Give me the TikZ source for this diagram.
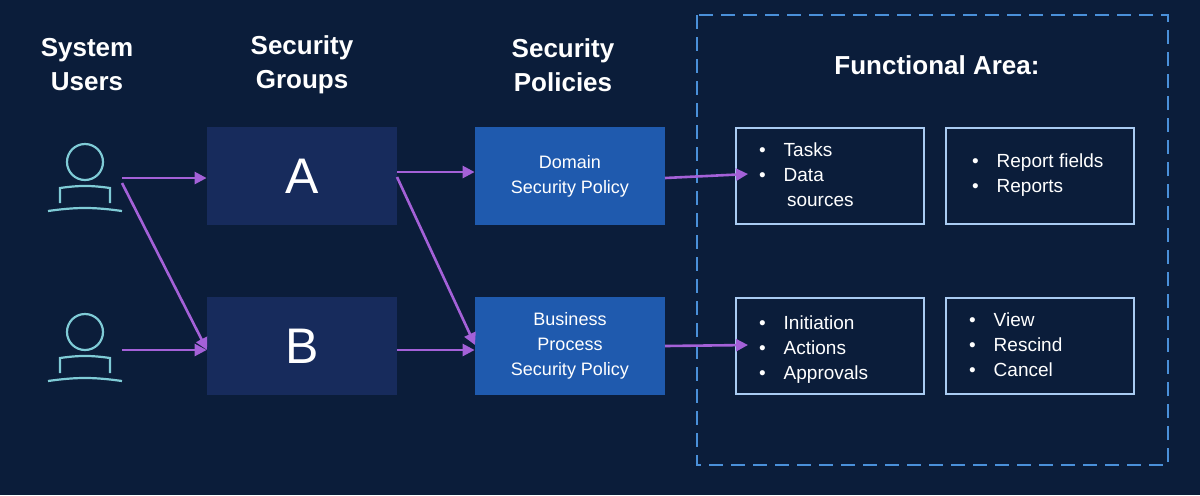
\documentclass[tikz,border=0pt]{standalone}
\usepackage{fontspec}
\setmainfont{Liberation Sans}
\usetikzlibrary{arrows.meta}
\definecolor{bg}{HTML}{0B1D3A}
\definecolor{grp}{HTML}{172B5C}
\definecolor{pol}{HTML}{1F5AAE}
\definecolor{fa}{HTML}{A9CBF2}
\definecolor{dashc}{HTML}{4A90D9}
\definecolor{arr}{HTML}{A461D8}
\definecolor{icon}{HTML}{7FCBD6}
\begin{document}
\begin{tikzpicture}[x=0.5pt,y=-0.5pt,
  hdr/.style={text=white,font=\fontsize{13}{17}\selectfont\bfseries,align=center},
  grpbox/.style={fill=grp,minimum width=95pt,minimum height=49pt,text=white,font=\fontsize{25}{28}\selectfont},
  polbox/.style={fill=pol,minimum width=95pt,minimum height=49pt,text=white,font=\fontsize{9}{12.5}\selectfont,align=center},
  fabox/.style={draw=fa,line width=1.2pt,minimum width=94pt,minimum height=48pt},
  fatxt/.style={text=white,font=\fontsize{9.5}{12.5}\selectfont,align=left,anchor=north west},
  con/.style={draw=arr,line width=1.3pt,-{Triangle[length=6pt,width=6pt]}},
  ic/.style={draw=icon,line width=1.1pt}]
\fill[bg] (0,0) rectangle (1200,495);
\draw[dashc,line width=1.2pt,dash pattern=on 7pt off 4pt] (697,15) rectangle (1168,465);
\node[hdr] at (87,65) {System\\Users};
\node[hdr] at (302,65) {Security\\Groups};
\node[hdr] at (563,65) {Security\\Policies};
\node[hdr] at (937,65) {Functional Area:};
\node[grpbox] (A) at (302,176) {A};
\node[grpbox] (B) at (302,346) {B};
\node[polbox] (P1) at (570,176) {Domain\\Security Policy};
\node[polbox] (P2) at (570,346) {Business\\Process\\Security Policy};
\node[fabox] (F1) at (830,176) {};
\node[fatxt] at (752,136) {•\hspace{9pt}Tasks\\•\hspace{9pt}Data\\\hspace{14pt}sources};
\node[fabox] (F2) at (1040,176) {};
\node[fatxt] at (965,147) {•\hspace{9pt}Report fields\\•\hspace{9pt}Reports};
\node[fabox] (F3) at (830,346) {};
\node[fatxt] at (752,309) {•\hspace{9pt}Initiation\\•\hspace{9pt}Actions\\•\hspace{9pt}Approvals};
\node[fabox] (F4) at (1040,346) {};
\node[fatxt] at (962,306) {•\hspace{9pt}View\\•\hspace{9pt}Rescind\\•\hspace{9pt}Cancel};
\foreach \dy in {0,170}{
  \begin{scope}[yshift=-\dy*0.5pt]
  \draw[ic] (85,162) circle (9pt);
  \draw[ic] (60,203) -- (60,188) to[bend left=8] (110,188) -- (110,203);
  \draw[ic] (48,211) to[bend left=8] (122,211);
  \end{scope}}
\coordinate (U1) at (122,178);
\coordinate (U1b) at (122,183);
\coordinate (U2) at (122,350);
\draw[con] (U1) -- (A.west|-U1);
\draw[con] (U1b) -- (207,350);
\draw[con] (U2) -- (B.west|-U2);
\coordinate (Aa) at (397,172);
\coordinate (Ab) at (397,177);
\coordinate (Bb) at (397,350);
\draw[con] (Aa) -- (P1.west|-Aa);
\draw[con] (Ab) -- (475,345);
\draw[con] (Bb) -- (P2.west|-Bb);
\coordinate (P1e) at (665,178);
\coordinate (P2e) at (665,346);
\draw[con] (P1e) -- (748,174);
\draw[con] (P2e) -- (748,345);
\end{tikzpicture}
\end{document}
